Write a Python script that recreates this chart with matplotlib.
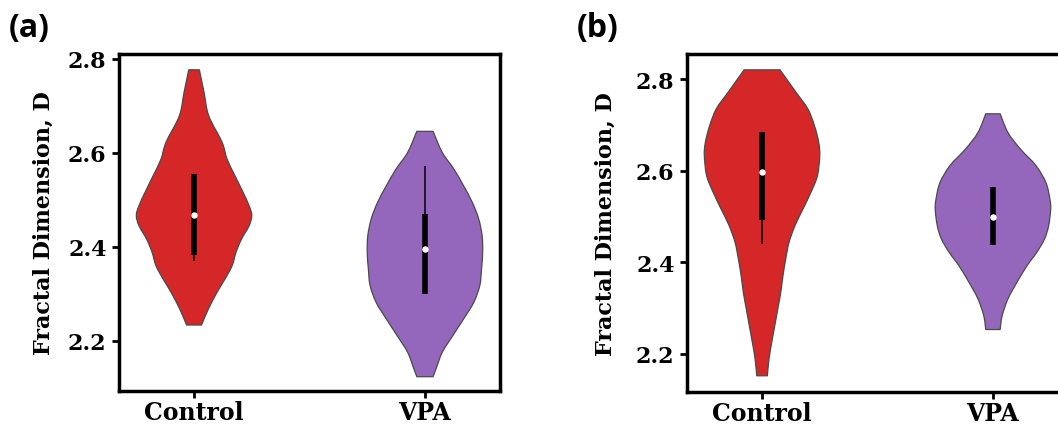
import matplotlib
matplotlib.use("Agg")
import matplotlib.pyplot as plt
from matplotlib.path import Path
from matplotlib.patches import PathPatch
import numpy as np

# ---------------- data ----------------
groups = ["Control", "VPA"]
colors = ["#d62728", "#9467bd"]
yticks = [2.2, 2.4, 2.6, 2.8]

# Panel (a): violin outlines (value, relative density)
a_ctrl_y = [2.777, 2.729, 2.679, 2.623, 2.587, 2.552, 2.516, 2.488, 2.467,
            2.445, 2.417, 2.389, 2.360, 2.332, 2.304, 2.268, 2.234]
a_ctrl_d = [0.092, 0.173, 0.255, 0.485, 0.572, 0.707, 0.850, 0.953, 1.000,
            0.953, 0.823, 0.728, 0.659, 0.537, 0.400, 0.248, 0.130]
a_vpa_y = [2.646, 2.601, 2.566, 2.530, 2.495, 2.460, 2.424, 2.389, 2.353,
           2.318, 2.282, 2.247, 2.211, 2.176, 2.140, 2.124]
a_vpa_d = [0.141, 0.300, 0.500, 0.670, 0.820, 0.930, 0.990, 1.000, 0.980,
           0.950, 0.845, 0.670, 0.480, 0.300, 0.190, 0.140]
a_q1 = [2.383, 2.300]
a_median = [2.468, 2.396]
a_q3 = [2.555, 2.470]
a_whisk_lo = [2.371, 2.300]
a_whisk_hi = [2.555, 2.573]

# Panel (b)
b_ctrl_y = [2.820, 2.771, 2.735, 2.698, 2.662, 2.633, 2.589, 2.553, 2.516,
            2.480, 2.443, 2.407, 2.371, 2.334, 2.298, 2.261, 2.225, 2.189, 2.152]
b_ctrl_d = [0.311, 0.588, 0.792, 0.908, 0.981, 1.000, 0.960, 0.848, 0.709,
            0.571, 0.467, 0.410, 0.363, 0.324, 0.273, 0.220, 0.168, 0.121, 0.092]
b_vpa_y = [2.724, 2.683, 2.647, 2.611, 2.574, 2.538, 2.516, 2.480, 2.451,
           2.422, 2.392, 2.356, 2.320, 2.283, 2.253]
b_vpa_d = [0.125, 0.260, 0.476, 0.744, 0.917, 0.986, 1.000, 0.965, 0.894,
           0.761, 0.588, 0.415, 0.260, 0.159, 0.125]
b_q1 = [2.493, 2.4375]
b_median = [2.598, 2.498]
b_q3 = [2.6836, 2.5634]
b_whisk_lo = [2.440, 2.4375]
b_whisk_hi = [2.6836, 2.5634]

# ---------------- drawing ----------------
W, H = 1058, 427
fig = plt.figure(figsize=(W / 100, H / 100), dpi=100)

serif = "DejaVu Serif"
HALF = 0.25  # half-width of the widest part of each violin


def cr_bezier(pts):
    """Smooth Catmull-Rom curve through pts, returned as cubic Bezier vertices."""
    p = np.vstack([pts[0], pts, pts[-1]])
    verts = []
    for i in range(1, len(p) - 2):
        p0, p1, p2, p3 = p[i - 1], p[i], p[i + 1], p[i + 2]
        verts += [p1 + (p2 - p0) / 6.0, p2 - (p3 - p1) / 6.0, p2]
    return verts


def violin_path(center, ys, ds):
    ys = np.asarray(ys, float)
    ds = np.asarray(ds, float) * HALF
    right = np.column_stack([center + ds, ys])
    left = np.column_stack([center - ds, ys])[::-1]
    verts = [right[0]]
    codes = [Path.MOVETO]
    rv = cr_bezier(right)
    verts += rv
    codes += [Path.CURVE4] * len(rv)
    verts.append(left[0])
    codes.append(Path.LINETO)
    lv = cr_bezier(left)
    verts += lv
    codes += [Path.CURVE4] * len(lv)
    verts.append(right[0])
    codes.append(Path.CLOSEPOLY)
    return Path(np.array(verts), codes)


def draw_panel(ax, outlines, q1, med, q3, wlo, whi, ylim, label_x):
    for i, (ys, ds) in enumerate(outlines):
        ax.add_patch(PathPatch(violin_path(i, ys, ds), facecolor=colors[i],
                               edgecolor="#4a4a4a", linewidth=0.9, zorder=1))
        ax.vlines(i, wlo[i], whi[i], color="black", lw=1.1, zorder=2)
        ax.vlines(i, q1[i], q3[i], color="black", lw=4.0, zorder=3)
        ax.plot(i, med[i], "o", color="white", ms=3.6, mec="white", zorder=4)
    ax.set_xlim(-0.325, 1.325)
    ax.set_ylim(*ylim)
    ax.set_xticks(range(len(groups)))
    ax.set_xticklabels(groups, fontfamily=serif, fontweight="bold", fontsize=17)
    ax.set_yticks(yticks)
    ax.set_yticklabels([f"{v:.1f}" for v in yticks], fontfamily=serif,
                       fontweight="bold", fontsize=16)
    ax.tick_params(axis="y", length=5, width=2, pad=4)
    ax.tick_params(axis="x", length=5, width=2, pad=1.5)
    for s in ax.spines.values():
        s.set_linewidth(2.5)
    ax.set_ylabel("Fractal Dimension, D", fontfamily=serif, fontweight="bold",
                  fontsize=16)
    ax.yaxis.set_label_coords(label_x, 0.5)


ax_a = fig.add_axes([119 / W, (H - 392) / H, 381 / W, 337 / H])
draw_panel(ax_a, [(a_ctrl_y, a_ctrl_d), (a_vpa_y, a_vpa_d)],
           a_q1, a_median, a_q3, a_whisk_lo, a_whisk_hi,
           (2.0936, 2.8106), -0.168)

ax_b = fig.add_axes([687 / W, (H - 392.5) / H, 381 / W, 337.5 / H])
draw_panel(ax_b, [(b_ctrl_y, b_ctrl_d), (b_vpa_y, b_vpa_d)],
           b_q1, b_median, b_q3, b_whisk_lo, b_whisk_hi,
           (2.1177, 2.8546), -0.184)

lab_kw = dict(fontfamily=["Open Sans", "DejaVu Sans"], fontweight="bold",
              fontsize=23, va="baseline")
fig.text(9 / W, 1 - 37 / H, "(a)", **lab_kw)
fig.text(577 / W, 1 - 37 / H, "(b)", **lab_kw)

fig.savefig("out.png", dpi=100)
